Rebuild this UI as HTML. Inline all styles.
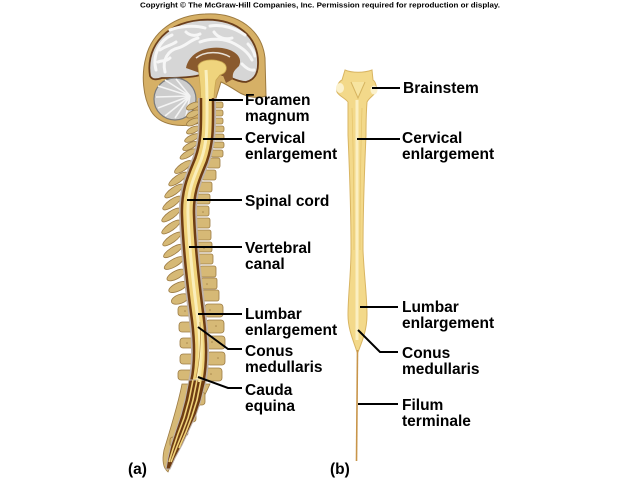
<!DOCTYPE html>
<html><head><meta charset="utf-8"><style>
html,body{margin:0;padding:0;background:#fff;}
svg{display:block;}
text{font-family:"Liberation Sans",Arial,sans-serif;font-weight:bold;fill:#000;}
.lb{font-size:15.5px;}
.v{fill:#d6b976;stroke:#9c7b44;stroke-width:0.8;}
.ld{stroke:#000;stroke-width:2;fill:none;}
</style></head><body>
<svg width="640" height="480" viewBox="0 0 640 480" xmlns="http://www.w3.org/2000/svg">
<text x="140" y="7.5" font-size="7.6" textLength="360" lengthAdjust="spacingAndGlyphs">Copyright © The McGraw-Hill Companies, Inc. Permission required for reproduction or display.</text>

<!-- ===== LEFT FIGURE ===== -->
<path d="M200,123 C182,128 160,126 151,111 C143,97 141,75 146,57 C152,32 175,15 205,14 C238,12 262,30 265,58 L266,96 C258,99 248,97 240,93 C232,88 226,84 221,82 L216,98 L207,121 Z" fill="#d6b066" stroke="#9c7a40" stroke-width="1"/>
<path d="M150,76 C146,52 160,24 200,20 C238,17 259,38 258,64 C258,74 254,80 246,82 C238,82 232,78 226,76 L214,72 L196,76 C185,78 172,78 162,78 C156,80 152,80 150,76 Z" fill="#d6d6d6" stroke="#6b3f1c" stroke-width="1.8"/>
<g stroke="#f6f6f6" stroke-width="3" fill="none" stroke-linecap="round">
<path d="M156,70 C152,55 160,40 172,35"/>
<path d="M165,72 C162,60 168,50 178,48 C186,46 190,40 198,38"/>
<path d="M170,30 C180,26 195,25 205,28"/>
<path d="M210,26 C222,24 235,28 245,35"/>
<path d="M200,42 C210,38 225,38 235,44 C242,48 248,52 252,60"/>
<path d="M242,64 C246,68 250,71 254,70"/>
<path d="M160,50 C165,46 170,46 176,42"/>
<path d="M214,32 C218,38 226,40 232,38"/>
<path d="M186,32 C190,36 196,36 200,34"/>
<path d="M158,62 C162,60 166,62 170,58"/>
<path d="M248,44 C252,48 254,52 255,56"/>
</g>
<path d="M186,68 C189,53 205,46 222,48 C236,50 243,58 239,66 C235,70 232,72 233,79 L226,83 L222,73 L212,71 L200,73 Z" fill="#8a5a2e"/>
<path d="M196,58 C205,51 220,51 230,57" stroke="#e8e0d6" stroke-width="1.6" fill="none"/>
<circle cx="175" cy="99" r="21" fill="#cdcdcd" stroke="#7a7a7a" stroke-width="1.2"/>
<g stroke="#f4f4f4" stroke-width="1.6">
<line x1="190" y1="96" x2="158" y2="86"/><line x1="190" y1="96" x2="156" y2="97"/>
<line x1="190" y1="96" x2="158" y2="108"/><line x1="190" y1="96" x2="165" y2="116"/>
<line x1="190" y1="96" x2="175" y2="118"/><line x1="190" y1="96" x2="165" y2="80"/>
<line x1="190" y1="96" x2="176" y2="79"/><line x1="190" y1="96" x2="186" y2="116"/>
</g>
<path d="M198,66 C200,60 212,58 222,62 C229,66 227,73 220,75 L216,80 C214,90 214,100 213,110 L201,110 C201,95 200,80 198,66 Z" fill="#efd47d" stroke="#c9a650" stroke-width="0.8"/>
<path d="M206,70 C207,85 207,100 207,110" stroke="#faf0c0" stroke-width="3" fill="none"/>

<g class="v">
<rect x="214" y="102" width="9" height="6" rx="2"/><rect x="214" y="110" width="9" height="6" rx="2"/>
<rect x="214" y="118" width="9" height="6" rx="2"/><rect x="214" y="126" width="10" height="6" rx="2"/>
<rect x="214" y="134" width="10" height="6" rx="2"/><rect x="213" y="142" width="11" height="6" rx="2"/>
<rect x="211" y="150" width="12" height="7" rx="2"/>
<ellipse cx="193" cy="106" rx="7" ry="3" transform="rotate(-25 193 106)"/>
<ellipse cx="193" cy="114" rx="7" ry="3" transform="rotate(-25 193 114)"/>
<ellipse cx="193" cy="122" rx="7" ry="3" transform="rotate(-25 193 122)"/>
<ellipse cx="193" cy="130" rx="7" ry="3" transform="rotate(-25 193 130)"/>
<ellipse cx="192" cy="138" rx="8" ry="3" transform="rotate(-25 192 138)"/>
<ellipse cx="190" cy="146" rx="8" ry="3" transform="rotate(-28 190 146)"/>
<ellipse cx="188" cy="154" rx="9" ry="3" transform="rotate(-30 188 154)"/>
</g>
<g class="v">
<rect x="207" y="158" width="13" height="10" rx="2"/><rect x="202" y="170" width="14" height="10" rx="2"/>
<rect x="198" y="182" width="14" height="10" rx="2"/><rect x="196" y="194" width="14" height="10" rx="2"/>
<rect x="195" y="206" width="14" height="10" rx="2"/><rect x="195" y="218" width="15" height="10" rx="2"/>
<rect x="196" y="230" width="15" height="10" rx="2"/><rect x="197" y="242" width="15" height="10" rx="2"/>
<rect x="198" y="254" width="15" height="10" rx="2"/><rect x="200" y="266" width="16" height="11" rx="2"/>
<rect x="201" y="278" width="16" height="11" rx="2"/><rect x="202" y="290" width="17" height="11" rx="2"/>
<ellipse cx="183" cy="167" rx="10" ry="3.5" transform="rotate(-35 183 167)"/>
<ellipse cx="178" cy="179" rx="11" ry="3.5" transform="rotate(-35 178 179)"/>
<ellipse cx="174" cy="191" rx="11" ry="3.5" transform="rotate(-35 174 191)"/>
<ellipse cx="172" cy="203" rx="11" ry="3.5" transform="rotate(-35 172 203)"/>
<ellipse cx="171" cy="215" rx="11" ry="3.5" transform="rotate(-35 171 215)"/>
<ellipse cx="171" cy="227" rx="11" ry="3.5" transform="rotate(-35 171 227)"/>
<ellipse cx="172" cy="239" rx="11" ry="3.5" transform="rotate(-35 172 239)"/>
<ellipse cx="173" cy="251" rx="11" ry="3.5" transform="rotate(-33 173 251)"/>
<ellipse cx="174" cy="263" rx="11" ry="3.8" transform="rotate(-30 174 263)"/>
<ellipse cx="176" cy="275" rx="10" ry="4" transform="rotate(-28 176 275)"/>
<ellipse cx="178" cy="287" rx="10" ry="4" transform="rotate(-25 178 287)"/>
<ellipse cx="180" cy="299" rx="9" ry="4.5" transform="rotate(-20 180 299)"/>
</g>
<g class="v">
<rect x="205" y="304" width="18" height="13" rx="3"/><rect x="206" y="320" width="18" height="13" rx="3"/>
<rect x="207" y="336" width="18" height="13" rx="3"/><rect x="207" y="352" width="18" height="13" rx="3"/>
<rect x="205" y="368" width="17" height="13" rx="3"/>
<rect x="178" y="306" width="15" height="10" rx="3"/><rect x="179" y="322" width="15" height="10" rx="3"/>
<rect x="180" y="338" width="15" height="10" rx="3"/><rect x="180" y="354" width="15" height="10" rx="3"/>
<rect x="178" y="370" width="15" height="10" rx="3"/>
</g>
<path d="M182,384 C178,405 170,430 164,450 C162,460 163,468 168,472 C172,462 176,450 182,438 C192,420 202,402 210,384 Z" class="v"/>
<g class="v">
<rect x="190" y="392" width="15" height="13" rx="3"/><rect x="183" y="410" width="13" height="12" rx="3"/>
<rect x="177" y="425" width="11" height="11" rx="3"/><rect x="170" y="437" width="9" height="10" rx="3"/>
</g>
<!-- speckles -->
<g fill="#a8874c">
<circle cx="210" cy="310" r="0.8"/><circle cx="216" cy="326" r="0.8"/><circle cx="212" cy="342" r="0.8"/>
<circle cx="218" cy="358" r="0.8"/><circle cx="211" cy="374" r="0.8"/><circle cx="185" cy="311" r="0.8"/>
<circle cx="187" cy="343" r="0.8"/><circle cx="203" cy="212" r="0.8"/><circle cx="204" cy="248" r="0.8"/>
<circle cx="207" cy="284" r="0.8"/><circle cx="197" cy="398" r="0.8"/><circle cx="189" cy="416" r="0.8"/>
</g>

<path d="M207,98 C207,125 208,140 201,160 C195,175 187,190 188,215 C189,245 194,290 198,320 C201,345 201,365 197,383" fill="none" stroke="#bfb3aa" stroke-width="18"/>
<path d="M207,98 C207,125 208,140 201,160 C195,175 187,190 188,215 C189,245 194,290 198,320 C201,345 201,365 197,383" fill="none" stroke="#6e3c12" stroke-width="14.5"/>
<path d="M207,98 C207,125 208,140 201,160 C195,175 187,190 188,215 C189,245 194,290 198,320 C201,345 201,365 197,383" fill="none" stroke="#efd27a" stroke-width="9.5"/>
<path d="M207,98 C207,125 208,140 201,160 C195,175 187,190 188,215 C189,245 194,290 198,320 C201,345 201,365 197,383" fill="none" stroke="#faeebb" stroke-width="3"/>
<path d="M189,380 L185,400 L181,415 L176,430 L171,445 L168,458 L166,469 L170,469 L175,458 L182,445 L189,430 L196,415 L201,400 L206,380 Z" fill="#6e3c12" stroke="#bfb3aa" stroke-width="1"/>
<g stroke="#efd27a" stroke-width="1.6" fill="none">
<path d="M193,380 L189,400 L184,418 L178,434 L173,449 L169,462"/>
<path d="M197,380 L193,400 L188,418 L182,434 L176,449 L171,462"/>
<path d="M201,380 L197,400 L192,416 L186,432 L179,448"/>
</g>
<path d="M200,322 C203,345 202,365 199,382" stroke="#f7e6a2" stroke-width="2" fill="none"/>
<path d="M200,322 C201,340 200,360 196,378" stroke="#b48a40" stroke-width="0.7" fill="none"/>

<!-- ===== RIGHT FIGURE ===== -->
<path d="M345,70 C352,73 364,73 372,70 L373,80 C376,82 377,88 376,92 C373,96 369,98 367,102 C366,115 366,125 366,135 C365,160 363,200 363,250 C364,275 367,295 367,315 C367,330 362,342 358,352 L357,352 C354,342 348,330 348,315 C348,295 351,275 351,250 C351,200 349,160 348,135 C348,125 348,115 348,102 C345,98 339,96 337,92 C336,88 338,82 342,80 Z" fill="#f3d98a" stroke="#d9b562" stroke-width="1"/>
<ellipse cx="340" cy="88" rx="4" ry="5" fill="#fbf1cc"/>
<ellipse cx="374" cy="90" rx="3.5" ry="4.5" fill="#fbf1cc"/>
<path d="M351,82 L358,98 L365,82" stroke="#d6b460" stroke-width="1" fill="#f7e4a0"/>
<path d="M357,100 L357,130 L357,250 L357,340" stroke="#fbefc2" stroke-width="3" fill="none"/>
<path d="M352,108 C353,140 354,200 354,250" stroke="#e6c66f" stroke-width="0.8" fill="none"/>
<path d="M362,108 C361,140 360,200 360,250" stroke="#e6c66f" stroke-width="0.8" fill="none"/>
<line x1="357.5" y1="350" x2="356.5" y2="461" stroke="#c8954a" stroke-width="1.6"/>

<g class="ld">
<line x1="209" y1="100" x2="243" y2="100"/>
<line x1="203" y1="139" x2="242" y2="139"/>
<line x1="187" y1="200" x2="242" y2="200"/>
<line x1="189" y1="247" x2="242" y2="247"/>
<line x1="198" y1="314" x2="242" y2="314"/>
<polyline points="198,327 228,349 242,349"/>
<polyline points="198,377 228,388 242,388"/>
<line x1="372" y1="88" x2="400" y2="88"/>
<line x1="357" y1="139" x2="400" y2="139"/>
<line x1="360" y1="307" x2="398" y2="307"/>
<polyline points="358,330 380,352 398,352"/>
<line x1="358" y1="404" x2="398" y2="404"/>
</g>

<g class="lb">
<text class="lb" x="245" y="105">Foramen</text>
<text class="lb" x="245" y="121">magnum</text>
<text class="lb" x="245" y="143">Cervical</text>
<text class="lb" x="245" y="159">enlargement</text>
<text class="lb" x="245" y="206">Spinal cord</text>
<text class="lb" x="245" y="253">Vertebral</text>
<text class="lb" x="245" y="269">canal</text>
<text class="lb" x="245" y="319">Lumbar</text>
<text class="lb" x="245" y="335">enlargement</text>
<text class="lb" x="245" y="356">Conus</text>
<text class="lb" x="245" y="372">medullaris</text>
<text class="lb" x="245" y="395">Cauda</text>
<text class="lb" x="245" y="411">equina</text>
<text class="lb" x="403" y="93">Brainstem</text>
<text class="lb" x="402" y="143">Cervical</text>
<text class="lb" x="402" y="159">enlargement</text>
<text class="lb" x="402" y="312">Lumbar</text>
<text class="lb" x="402" y="328">enlargement</text>
<text class="lb" x="402" y="358">Conus</text>
<text class="lb" x="402" y="374">medullaris</text>
<text class="lb" x="402" y="410">Filum</text>
<text class="lb" x="402" y="426">terminale</text>
<text class="lb" x="128" y="474">(a)</text>
<text class="lb" x="330" y="474">(b)</text>
</g>
</svg>
</body></html>
